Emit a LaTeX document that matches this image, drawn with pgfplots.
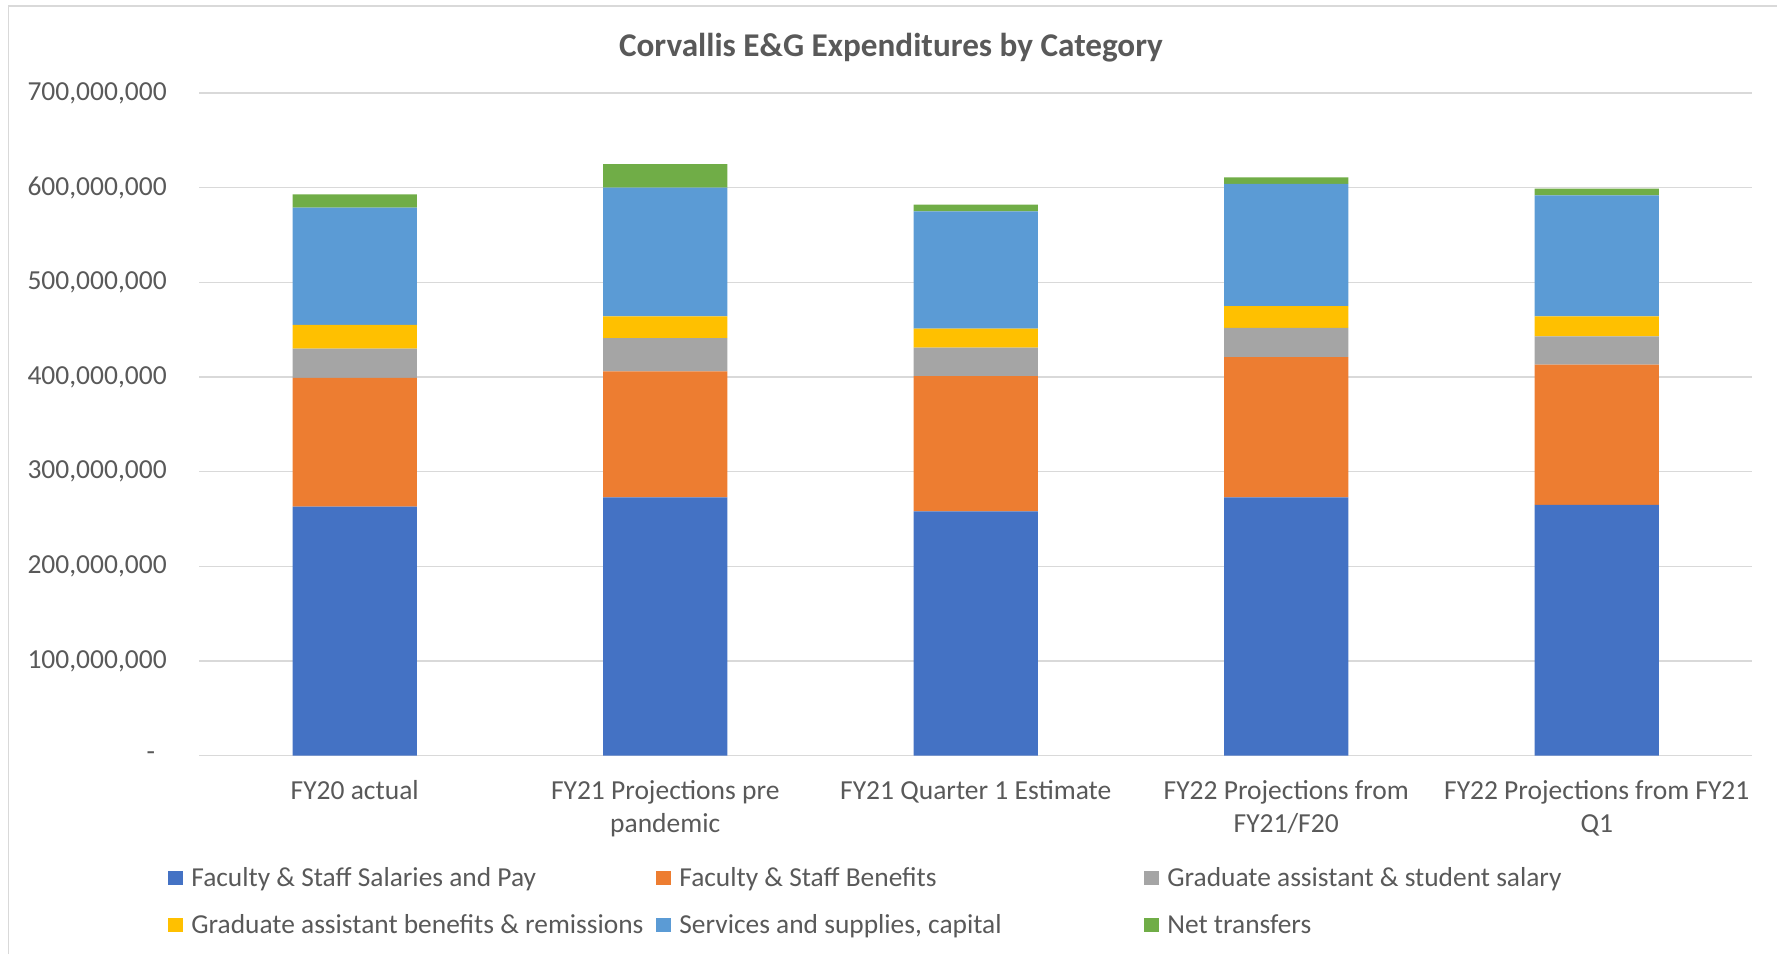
\documentclass[border=0pt]{standalone}
\usepackage{pgfplots}
\pgfplotsset{compat=1.18}
\usepackage{pgfplotstable}
\usepackage{fontspec}
\setmainfont{Carlito}
\definecolor{cSal}{HTML}{4472C4}
\definecolor{cBen}{HTML}{ED7D31}
\definecolor{cGsal}{HTML}{A5A5A5}
\definecolor{cGben}{HTML}{FFC000}
\definecolor{cServ}{HTML}{5B9BD5}
\definecolor{cNet}{HTML}{70AD47}
\definecolor{cGrid}{HTML}{D9D9D9}
\definecolor{cText}{HTML}{595959}

\pgfplotstableread{
x sal ben gsal gben serv net
0 263000000 136000000 31000000 25000000 124000000 14000000
1 273000000 133000000 35000000 23000000 136000000 25000000
2 258000000 143000000 30000000 20000000 124000000 7000000
3 273000000 148000000 31000000 23000000 129000000 7000000
4 265000000 148000000 30000000 21000000 128000000 7000000
}\datatable

\begin{document}
\begin{tikzpicture}
\path[use as bounding box] (-99.75pt,-99.15pt) rectangle (788.75pt,377.85pt);
\begin{axis}[
  scale only axis,
  width=776.25pt, height=331.35pt,
  ybar stacked, bar width=0.4,
  xmin=-0.5, xmax=4.5, ymin=0, ymax=700000000,
  enlargelimits=false,
  scaled y ticks=false,
  xtick={0,1,2,3,4},
  xticklabels={FY20 actual,{FY21 Projections pre\\pandemic},FY21 Quarter 1 Estimate,{FY22 Projections from\\FY21/F20},{FY22 Projections from FY21\\Q1}},
  ytick={0,100000000,200000000,300000000,400000000,500000000,600000000,700000000},
  yticklabels={{-\rule{5.8pt}{0pt}},{100,000,000},{200,000,000},{300,000,000},{400,000,000},{500,000,000},{600,000,000},{700,000,000}},
  axis x line*=bottom, axis y line*=left,
  y axis line style={draw=none},
  x axis line style={draw=cGrid, line width=0.75pt},
  ymajorgrids, grid style={draw=cGrid, line width=0.75pt},
  major tick length=0pt,
  tick label style={font=\fontsize{13.75}{16.5}\selectfont, text=cText},
  xticklabel style={align=center, anchor=north, inner sep=0pt, yshift=-12pt},
  yticklabel style={anchor=east, inner sep=0pt, xshift=-16.2pt},
  title={Corvallis E\&G Expenditures by Category},
  title style={at={(0.4454,1.0503)}, anchor=center, inner sep=0pt, text=cText,
    font=\bfseries\fontsize{16.6}{19.9}\selectfont},
  every axis plot post/.append style={draw=none,
    legend image code/.code={\fill[##1,draw=none] (0pt,-3.5pt) rectangle (7.5pt,3.5pt);}},
  legend columns=3,
  legend style={at={(0,0)}, anchor=west, xshift=-15.75pt, yshift=-72.9pt,
    draw=none, fill=none, inner sep=0pt, row sep=10pt,
    font=\fontsize{13.7}{16.5}\selectfont, text=cText,
    nodes={inner sep=0pt, text width=232.5pt, align=flush left, text height=11.2pt, text depth=2.3pt},
    /tikz/every odd column/.append style={column sep=4pt}},
]
\addplot[fill=cSal] table[x=x,y=sal]{\datatable};
\addplot[fill=cBen] table[x=x,y=ben]{\datatable};
\addplot[fill=cGsal] table[x=x,y=gsal]{\datatable};
\addplot[fill=cGben] table[x=x,y=gben]{\datatable};
\addplot[fill=cServ] table[x=x,y=serv]{\datatable};
\addplot[fill=cNet] table[x=x,y=net]{\datatable};
\legend{Faculty \& Staff Salaries and Pay, Faculty \& Staff Benefits, Graduate assistant \& student salary, Graduate assistant benefits \& remissions, {Services and supplies, capital}, Net transfers}
\end{axis}
\draw[cGrid, line width=0.75pt] (-95.5pt,-99.15pt) -- (-95.5pt,374.85pt) -- (788.75pt,374.85pt);
\end{tikzpicture}
\end{document}
